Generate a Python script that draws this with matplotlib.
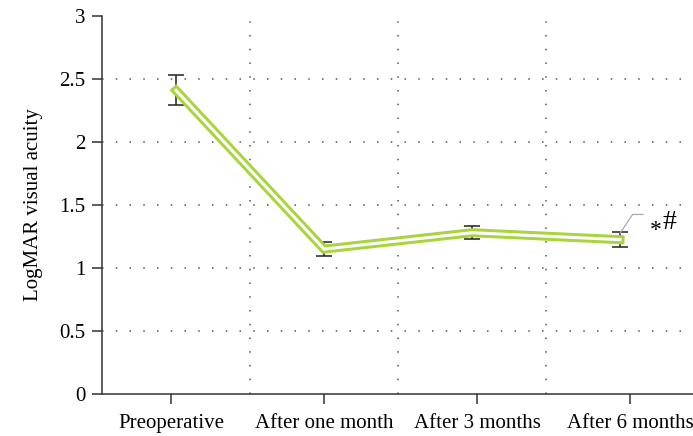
import matplotlib
matplotlib.use("Agg")
import matplotlib.pyplot as plt
import numpy as np

categories = ["Preoperative", "After one month", "After 3 months", "After 6 months"]
means = [2.41, 1.15, 1.28, 1.225]
errors = [0.12, 0.055, 0.05, 0.06]
yticks = [0, 0.5, 1, 1.5, 2, 2.5, 3]
ytick_labels = ["0", "0.5", "1", "1.5", "2", "2.5", "3"]

plt.rcParams["font.family"] = ["Liberation Serif", "DejaVu Serif"]

fig = plt.figure(figsize=(6.93, 4.36), dpi=100)
ax = fig.add_axes([102 / 693, 42 / 436, 592 / 693, 378 / 436])

x = np.arange(len(categories))
# category ticks are spread slightly wider than the data points
tick_pos = 1 + (x - 1) * 1.034
green = "#a8d43c"

# grid: dotted, drawn between categories and at y ticks
for gx in x[:-1] + 0.5:
    ax.axvline(gx, color="#555555", lw=1.1, ls=(0, (1, 8)), zorder=0)
for gy in yticks[1:-1]:
    ax.axhline(gy, color="#555555", lw=1.1, ls=(0, (1, 8)), zorder=0)

ax.errorbar(x, means, yerr=errors, fmt="none", ecolor="#222222",
            elinewidth=1.1, capsize=5.5, capthick=1.1, zorder=2)
# double-stroke line: green outline with white core
ax.plot(x, means, color=green, lw=6.5, solid_joinstyle="miter", zorder=3)
ax.plot(x, means, color="white", lw=2.2, solid_joinstyle="miter", zorder=4)

# significance marker with leader line
top6 = means[3] + errors[3]
ax.plot([3.0, 3.085, 3.155], [top6 - 0.01, top6 + 0.14, top6 + 0.14],
        color="#aaaaaa", lw=0.9, zorder=5)
ax.text(3.2, 1.255, "*", fontsize=17, va="baseline", ha="left")
ax.text(3.285, 1.31, "#", fontsize=20, va="baseline", ha="left")

ax.set_xlim(-0.5, 3.5)
ax.set_ylim(0, 3)
ax.set_xticks(tick_pos)
ax.set_xticklabels(categories, fontsize=15)
ax.set_yticks(yticks)
ax.set_yticklabels(ytick_labels, fontsize=15)
ax.set_ylabel("LogMAR visual acuity", fontsize=15, labelpad=12)

for s in ["top", "right"]:
    ax.spines[s].set_visible(False)
for s in ["left", "bottom"]:
    ax.spines[s].set_linewidth(1.1)
    ax.spines[s].set_color("#333333")
ax.tick_params(axis="x", direction="out", length=7.5, width=1.1, color="#333333", pad=7)
ax.tick_params(axis="y", direction="out", length=7, width=1.1, color="#333333", pad=5)

fig.savefig("out.png", dpi=100)
